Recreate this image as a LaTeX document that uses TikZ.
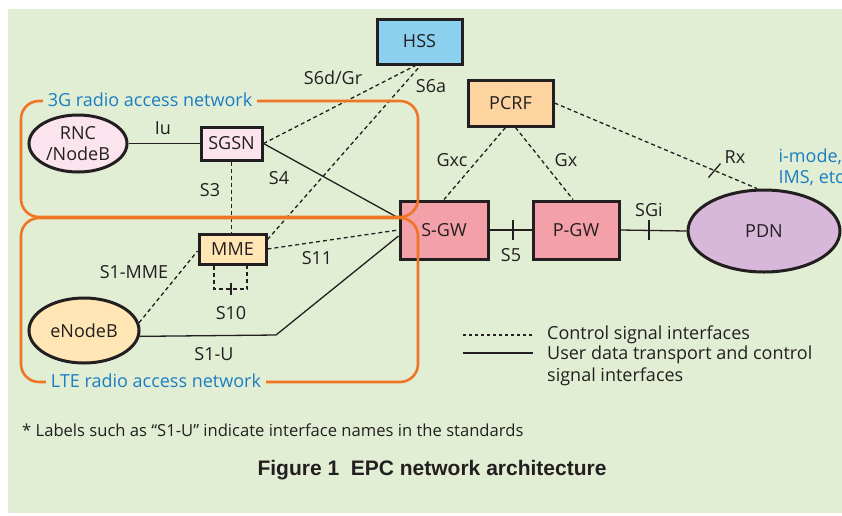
\documentclass[tikz,border=0pt]{standalone}
\usepackage{fontspec}
\setmainfont{Open Sans}
\newfontfamily\figepccaptionfont{Liberation Sans}
\usetikzlibrary{shapes.geometric}
\usetikzlibrary{calc}

\definecolor{epcbg}{RGB}{226,238,212}
\definecolor{epcorange}{RGB}{238,117,35}
\definecolor{epcblue}{RGB}{27,125,194}
\definecolor{epcink}{RGB}{35,31,32}
\definecolor{hssfill}{RGB}{140,208,240}
\definecolor{pcrffill}{RGB}{253,211,160}
\definecolor{gwfill}{RGB}{244,160,168}
\definecolor{pdnfill}{RGB}{216,184,218}
\definecolor{sgsnfill}{RGB}{252,228,238}
\definecolor{mmefill}{RGB}{255,230,180}

\begin{document}
\begin{tikzpicture}[x=1pt,y=-1pt,
    font=\fontsize{18}{21.5}\selectfont, text=epcink,
    netbox/.style={rectangle, draw=epcink, line width=3pt, inner sep=0pt},
    netell/.style={ellipse, draw=epcink, line width=3pt, inner sep=0pt, align=center},
    ctrl/.style={draw=epcink, line width=1.3pt, dash pattern=on 4pt off 3pt},
    user/.style={draw=epcink, line width=1.3pt},
    ran/.style={draw=epcorange, line width=2.6pt, rounded corners=18pt},
    ranlabel/.style={fill=epcbg, text=epcblue, inner xsep=5pt, inner ysep=1pt},
    iflabel/.style={inner sep=1pt}]
        \newcommand{\figepcgwy}{230}
        \newcommand{\figepcticklen}{10}
        \useasboundingbox (0,0) rectangle (842,515);
        \fill[epcbg] (8,9) rectangle (860,513);
        % core network
        \node[netbox, fill=hssfill, minimum width=85pt, minimum height=45pt] (hss) at (419.5,41.5) {HSS};
        \node[netbox, fill=pcrffill, minimum width=85pt, minimum height=46pt] (pcrf) at (510.5,103) {PCRF};
        \node[netbox, fill=gwfill, minimum width=88pt, minimum height=58pt] (sgw) at (444,\figepcgwy) {S-GW};
        \node[netbox, fill=gwfill, minimum width=86pt, minimum height=58pt] (pgw) at (576,\figepcgwy) {P-GW};
        \node[netell, fill=pdnfill, minimum width=152pt, minimum height=82pt] (pdn) at (764,231) {PDN};
        \node[anchor=west, align=left, text=epcblue] (pdnnote) at (775,167.5) {i-mode,\\IMS, etc.};
        % access networks
        \node[netbox, fill=sgsnfill, minimum width=61pt, minimum height=33pt] (sgsn) at (231.5,143.5) {SGSN};
        \node[netell, fill=sgsnfill, minimum width=98pt, minimum height=57pt] (rnc) at (78,143.5) {RNC\\/NodeB};
        \node[netbox, fill=mmefill, minimum width=67pt, minimum height=30pt] (mme) at (232.5,249) {MME};
        \node[netell, fill=mmefill, minimum width=110pt, minimum height=65pt] (enb) at (84,330.5) {eNodeB};
        % interfaces
        \draw[user] (rnc.east) -- (sgsn.west);
        \draw[user] (sgsn.east) -- ([yshift=12pt]sgw.west);
        \draw[ctrl] (sgsn.south) -- (sgsn.south |- mme.north);
        \draw[ctrl] (sgsn.east) -- ([xshift=-4pt]hss.south);
        \draw[ctrl] ([yshift=-7pt]mme.north east) -- ([xshift=1pt]hss.south);
        \draw[ctrl] (mme.east) -- (sgw.west);
        \draw[ctrl] (enb.8) -- ([yshift=-2pt]mme.west);
        \coordinate (s1ubend) at (276,335);
        \draw[user] (enb.-6) -- (s1ubend) -- ([yshift=-6pt]sgw.west);
        \coordinate (s10mid) at (231,289);
        \draw[ctrl] ([xshift=-18.5pt]mme.south) |- (s10mid) -| ([xshift=14.5pt]mme.south);
        \draw[user] (s10mid) ++(0,-6) -- ++(0,12);
        \draw[user] (sgw.east) -- (pgw.west) coordinate[pos=0.56] (s5tick);
        \draw[user] (s5tick) ++(0,-\figepcticklen) -- ++(0,2*\figepcticklen);
        \draw[user] (pgw.east) -- (pdn.west) coordinate[pos=0.43] (sgitick);
        \draw[user] (sgitick) ++(0,-\figepcticklen) -- ++(0,2*\figepcticklen);
        \draw[ctrl] ([xshift=-5pt]pcrf.south) -- (sgw.north);
        \draw[ctrl] ([xshift=5pt]pcrf.south) -- ([xshift=-3pt]pgw.north);
        \draw[ctrl] (pcrf.east) -- ([xshift=-7pt]pdn.north) coordinate[pos=0.79] (rxtick);
        \draw[user] ([shift={(-6,7)}]rxtick) -- ([shift={(6,-7)}]rxtick);
        % interface names
        \node[iflabel] (lbliu) at (163,128) {Iu};
        \node[iflabel] (lbls4) at (279,178) {S4};
        \node[iflabel] (lbls3) at (210,190) {S3};
        \node[iflabel] (lbls6d) at (333,78) {S6d/Gr};
        \node[iflabel] (lbls6a) at (431,86) {S6a};
        \node[iflabel] (lbls11) at (317,258) {S11};
        \node[iflabel] (lbls1mme) at (134,272) {S1-MME};
        \node[iflabel] (lbls10) at (231,313) {S10};
        \node[iflabel] (lbls1u) at (214,354) {S1-U};
        \node[iflabel] (lblgxc) at (452,160) {Gxc};
        \node[iflabel] (lblgx) at (566,160) {Gx};
        \node[iflabel] (lblrx) at (735,157) {Rx};
        \node[iflabel] (lbls5) at (511,255) {S5};
        \node[iflabel] (lblsgi) at (649,210) {SGi};
        % radio access networks
        \draw[ran] (21,101) rectangle (418,217);
        \draw[ran] (21,218) rectangle (418,382);
        \node[ranlabel] (ran3g) at (150,100) {3G radio access network};
        \node[ranlabel] (ranlte) at (156,381) {LTE radio access network};
        % legend
        \coordinate (legctrla) at (463,335);
        \coordinate (legctrlb) at (533,335);
        \coordinate (legusera) at (463,353);
        \coordinate (leguserb) at (533,353);
        \draw[ctrl, dash pattern=on 3pt off 3pt] (legctrla) -- (legctrlb);
        \draw[user] (legusera) -- (leguserb);
        \node[anchor=west, inner sep=0pt] (legctrltxt) at (547,335) {Control signal interfaces};
        \node[anchor=north west, align=left, inner sep=0pt] (legusertxt) at (547,346) {User data transport and control\\signal interfaces};
        % notes
        \node[anchor=west, inner sep=0pt, font=\fontsize{16.6}{20}\selectfont] (footnote) at (22,430) {* Labels such as “S1-U” indicate interface names in the standards};
        \node[font=\figepccaptionfont\bfseries\fontsize{21}{24}\selectfont] (caption) at (432,470) {Figure 1\ \ EPC network architecture};
    \end{tikzpicture}
\end{document}
